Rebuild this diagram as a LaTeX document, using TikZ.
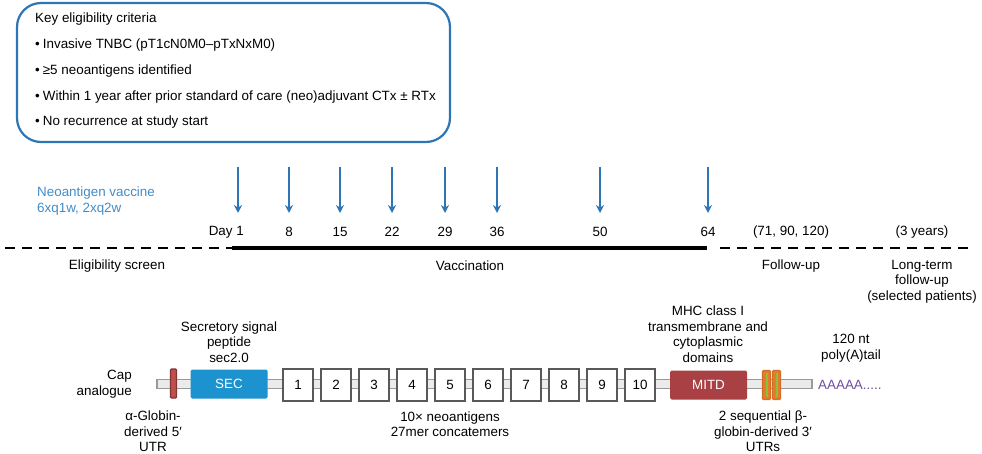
\documentclass[tikz,border=0pt]{standalone}
\usepackage{fontspec}
\setmainfont{Liberation Sans}
\usetikzlibrary{arrows.meta,positioning}
\definecolor{frameblue}{RGB}{46,117,182}
\definecolor{textblue}{RGB}{66,140,200}
\definecolor{secblue}{RGB}{28,146,206}
\definecolor{mitdred}{RGB}{168,64,68}
\definecolor{utrred}{RGB}{190,80,80}
\definecolor{utrorange}{RGB}{232,122,44}
\definecolor{utrgreen}{RGB}{140,190,64}
\definecolor{tailpurple}{RGB}{112,78,160}
\tikzset{
  vacarrow/.style={frameblue,line width=2.2pt,-{Stealth[length=8pt,width=8pt]}},
  dashline/.style={line width=2.4pt,dash pattern=on 10pt off 7pt},
  agbox/.style={draw=black!65,line width=2.2pt,fill=white,minimum width=30pt,minimum height=32pt,inner sep=0pt},
  block/.style={minimum width=77pt,minimum height=29pt,inner sep=0pt,text=white,rounded corners=1.5pt},
  tag/.style={align=center,inner sep=0pt}
}
\begin{document}
\begin{tikzpicture}[x=1pt,y=-1pt,font=\fontsize{13.4}{15.5}\selectfont]
  \useasboundingbox (0,0) rectangle (982,454);
  % eligibility box
  \draw[frameblue,line width=2.2pt,rounded corners=24pt] (17,3) rectangle (450,142);
  \node[anchor=west,inner sep=0pt] (crit) at (35,19) {Key eligibility criteria};
  \foreach \y/\txt in {45/Invasive TNBC (pT1cN0M0–pTxNxM0),71/≥5 neoantigens identified,
      97/Within 1 year after prior standard of care (neo)adjuvant CTx ± RTx,122/No recurrence at study start}
    \node[anchor=west,inner sep=0pt] at (35,\y) {•\hspace{3pt}\txt};
  % schedule
  \node[anchor=west,align=left,text=textblue,inner sep=0pt] (vac) at (37,201) {Neoantigen vaccine\\6xq1w, 2xq2w};
  \foreach \x [count=\i] in {238,289,340,392,445,497,600,708} {
    \coordinate (t\i) at (\x,167);
    \coordinate (h\i) at (\x,213);
    \draw[vacarrow] (t\i) -- (h\i);
  }
  \node[anchor=east,inner sep=0pt] (day1) at (244,232) {Day 1};
  \foreach \x/\d in {289/8,340/15,392/22,445/29,497/36,600/50,708/64}
    \node[inner sep=0pt] (day\d) at (\x,232) {\d};
  \node[inner sep=0pt] (fu) at (791,232) {(71, 90, 120)};
  \node[inner sep=0pt] (lt) at (922,232) {(3 years)};
  % timeline
  \coordinate (s0) at (5,248);
  \coordinate (s1) at (232,248);
  \coordinate (s2) at (707,248);
  \coordinate (s3) at (720,248);
  \coordinate (s4) at (972,248);
  \draw[dashline] (s0) -- (s1);
  \draw[line width=3.2pt] (s1) -- (s2);
  \draw[dashline] (s3) -- (s4);
  \node[tag] at (117,266) {Eligibility screen};
  \node[tag] at (470,266) {Vaccination};
  \node[tag] at (791,266) {Follow-up};
  \node[tag] at (922,281.5) {Long-term\\follow-up\\(selected patients)};
  % mRNA construct
  \draw[draw=black!40,fill=black!8,line width=1.8pt] (157,379.5) rectangle (812,388.5);
  \node[anchor=east,align=right,inner sep=0pt] (cap) at (132,384) {Cap\\analogue};
  \draw[draw=mitdred!80!black,fill=utrred,line width=1.2pt,rounded corners=1pt] (170.5,369) rectangle (176.5,398);
  \node[block,fill=secblue] (sec) at (229,384) {SEC};
  \foreach \i in {1,...,10}
    \node[agbox] (ag\i) at ({298+(\i-1)*38},385) {\i};
  \node[block,fill=mitdred] (mitd) at (708.5,385) {MITD};
  \foreach \x in {762.5,772.5} {
    \draw[draw=utrorange!90!black,fill=utrorange,line width=1.2pt,rounded corners=1pt] (\x,370.5) rectangle ++(8,29);
    \fill[utrgreen] (\x+3,373) rectangle ++(2,24);
  }
  \node[anchor=west,text=tailpurple,inner sep=0pt] (tail) at (818,385) {AAAAA.....};
  % labels
  \node[tag] at (229,342) {Secretory signal\\peptide\\sec2.0};
  \node[tag] at (708,334) {MHC class I\\transmembrane and\\cytoplasmic\\domains};
  \node[tag] at (851,348) {120 nt\\poly(A)tail};
  \node[tag] at (153,431.5) {α-Globin-\\derived 5′\\UTR};
  \node[tag] at (450,424) {10× neoantigens\\27mer concatemers};
  \node[tag] at (763,431.5) {2 sequential β-\\globin-derived 3′\\UTRs};
\end{tikzpicture}
\end{document}
